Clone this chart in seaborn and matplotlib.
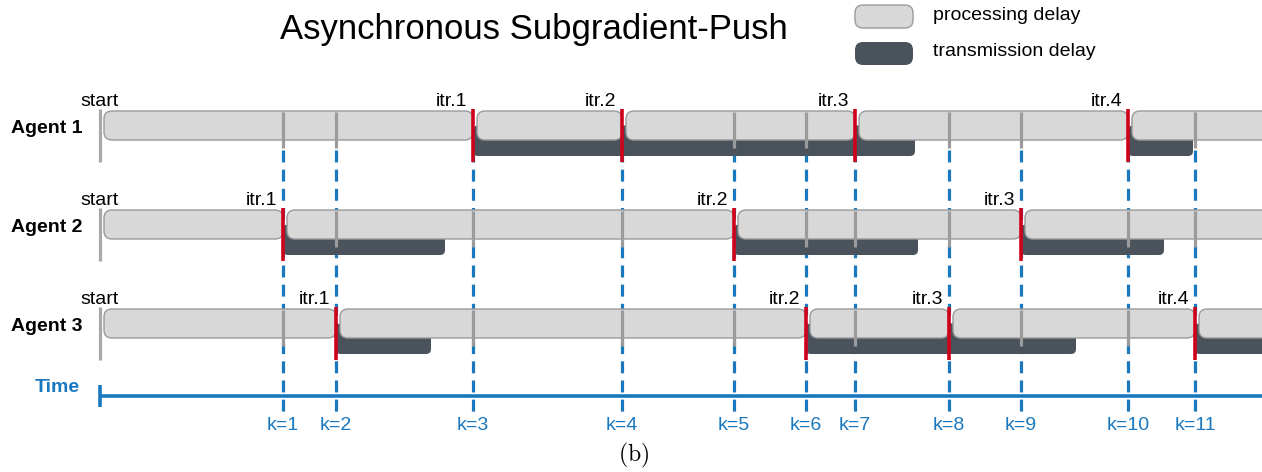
import matplotlib
matplotlib.use('Agg')
import matplotlib.pyplot as plt
from matplotlib.patches import FancyBboxPatch
import seaborn as sns

# ── Data ──────────────────────────────────────────────────────────────────
# time instants k=1..11 (position on the time axis)
K_TIMES = [283, 336, 473, 622, 734, 806, 855, 949, 1021, 1128, 1195]
K_LABELS = [f"k={i}" for i in range(1, len(K_TIMES) + 1)]
START = 100
END = 1300  # beyond the visible window

AGENTS = ['Agent 1', 'Agent 2', 'Agent 3']
# k index at which each agent finishes an iteration
ITER_K = {
    'Agent 1': [3, 4, 7, 10],
    'Agent 2': [1, 5, 9],
    'Agent 3': [2, 6, 8, 11],
}
# time at which the transmission of each iteration is done
TX_END = {
    'Agent 1': [780, 880, 915, 1193],
    'Agent 2': [445, 918, 1164],
    'Agent 3': [431, 1000, 1076, 1300],
}

# ── Style ─────────────────────────────────────────────────────────────────
sns.set_theme(style='white')
plt.rcParams['font.family'] = ['Liberation Sans', 'DejaVu Sans']
plt.rcParams['text.color'] = 'black'
plt.rcParams['mathtext.fontset'] = 'cm'
plt.rcParams['lines.scale_dashes'] = False

LIGHT = '#d8d8d8'
LIGHT_EDGE = '#9a9a9a'
DARK = '#4a535c'
RED = '#d0021b'
GREY = '#9b9b9b'
BLUE = '#1a78be'
FS = 14

ROW_Y = [125.5, 224.5, 323.5]
AXIS_Y = 396
BAR_H = 29
RAD = 8

fig = plt.figure(figsize=(12.62, 4.72), dpi=100)
ax = fig.add_axes([0, 0, 1, 1])
ax.set_xlim(0, 1262)
ax.set_ylim(472, 0)
ax.axis('off')

# dashed instants
for t in K_TIMES:
    ax.plot([t, t], [150, 413], color=BLUE, lw=2.3, dashes=(8.6, 5.2), zorder=1,
            solid_capstyle='butt')

for agent, yc in zip(AGENTS, ROW_Y):
    iters = [K_TIMES[k - 1] for k in ITER_K[agent]]
    # transmission delay bars (behind)
    for t0, t1 in zip(iters, TX_END[agent]):
        ax.add_patch(FancyBboxPatch((t0, yc), t1 - t0, 30.5,
                                    boxstyle="round,pad=0,rounding_size=5",
                                    fc=DARK, ec='none', zorder=2))
    # processing delay bars
    bounds = [START + 4] + [t + 4 for t in iters]
    ends = iters + [END]
    for t0, t1 in zip(bounds, ends):
        ax.add_patch(FancyBboxPatch((t0, yc - BAR_H / 2), t1 - t0, BAR_H,
                                    boxstyle=f"round,pad=0,rounding_size={RAD}",
                                    fc=LIGHT, ec=LIGHT_EDGE, lw=1, zorder=3))
    # grey ticks where other agents update
    for k, t in enumerate(K_TIMES, start=1):
        if k not in ITER_K[agent]:
            ax.plot([t, t], [yc - 14, yc + 22], color=GREY, lw=2.3, zorder=4,
                    solid_capstyle='butt')
    # start marker
    ax.plot([START, START], [yc - 16.5, yc + 36.5], color='#a8a8a8', lw=2.3,
            zorder=4, solid_capstyle='butt')
    ax.text(START, yc - 19.5, 'start', ha='center', va='baseline', fontsize=FS, zorder=6)
    # iteration markers
    for i, t in enumerate(iters, start=1):
        ax.plot([t, t], [yc - 16.5, yc + 36.5], color=RED, lw=2.6, zorder=5,
                solid_capstyle='butt')
        ax.text(t - 6, yc - 19.5, f'itr.{i}', ha='right', va='baseline',
                fontsize=FS, zorder=6)
    ax.text(11, yc + 3, agent, ha='left', va='center', fontsize=FS,
            fontweight='bold', zorder=6)

# time axis
ax.plot([START, END], [AXIS_Y, AXIS_Y], color=BLUE, lw=2.6, zorder=2,
        solid_capstyle='butt')
ax.plot([START, START], [385, 407], color=BLUE, lw=2.6, zorder=2,
        solid_capstyle='butt')
ax.text(57, 387, 'Time', ha='center', va='center', fontsize=FS,
        fontweight='bold', color=BLUE)
for t, lab in zip(K_TIMES, K_LABELS):
    ax.text(t, 426, lab, ha='center', va='center', fontsize=FS, color=BLUE)

# title and legend
ax.text(280, 39, 'Asynchronous Subgradient-Push', ha='left', va='baseline', fontsize=25)
ax.add_patch(FancyBboxPatch((855, 5), 58, 23, boxstyle=f"round,pad=0,rounding_size={RAD}",
                            fc=LIGHT, ec=LIGHT_EDGE, lw=1))
ax.add_patch(FancyBboxPatch((855, 42), 58, 23, boxstyle=f"round,pad=0,rounding_size={RAD}",
                            fc=DARK, ec='none'))
ax.text(933, 16, 'processing delay', ha='left', va='center', fontsize=FS)
ax.text(933, 52, 'transmission delay', ha='left', va='center', fontsize=FS)

ax.text(634, 455, r'$\mathrm{(b)}$', ha='center', va='center', fontsize=17)

fig.savefig('out.png', dpi=100)
